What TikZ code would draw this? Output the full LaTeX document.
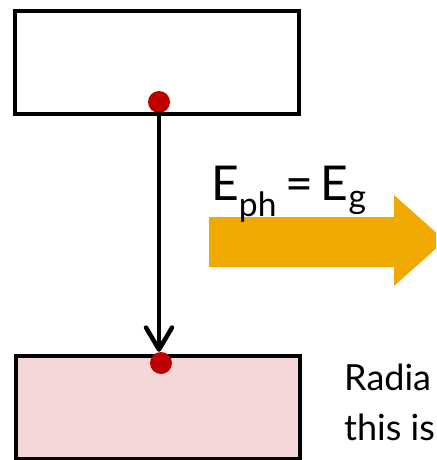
\documentclass[tikz,border=0pt]{standalone}
\usepackage{fontspec}
\setmainfont{Lato}
\usetikzlibrary{arrows.meta,positioning}
\definecolor{dotred}{HTML}{C00000}
\definecolor{valence}{HTML}{F4D7D8}
\definecolor{photon}{HTML}{EFA900}
\tikzset{
  band/.style={draw=black,line width=4pt,minimum width=284pt,minimum height=103pt,inner sep=0pt},
  carrier/.style={circle,fill=dotred,minimum size=22pt,inner sep=0pt},
  trans/.style={-{Straight Barb[length=22pt,width=26pt,line join=round,line cap=round]},line width=4.5pt,line cap=round},
  biglabel/.style={font=\fontsize{48}{52}\selectfont,inner sep=0pt},
  sidetext/.style={font=\fontsize{36}{50}\selectfont,inner sep=0pt}
}
\begin{document}
\begin{tikzpicture}[x=1pt,y=-1pt]
\useasboundingbox (0,0) rectangle (436,460);
\clip (0,0) rectangle (436,460);
% bands
\node[band,fill=white] (cb) at (156.5,62.5) {};
\node[band,fill=valence] (vb) at (158,407) {};
% electron and hole
\node[carrier] (elec) at (159,102) {};
\node[carrier] (hole) at (161,363) {};
\draw[trans] (elec.south) -- (elec.south |- hole.north);
% photon
\fill[photon] (209,217) -- (394,217) -- (394,195) -- (445,240.5) -- (394,286) -- (394,267) -- (209,267) -- cycle;
\node[biglabel,anchor=base west] (energy) at (211,200) {E\textsubscript{ph}\,=\,E\textsubscript{g}};
\node[sidetext,anchor=base west] (radline) at (344,390) {Radia};
\node[sidetext,anchor=base west] (thisline) at (344,440) {this is};
\end{tikzpicture}
\end{document}
